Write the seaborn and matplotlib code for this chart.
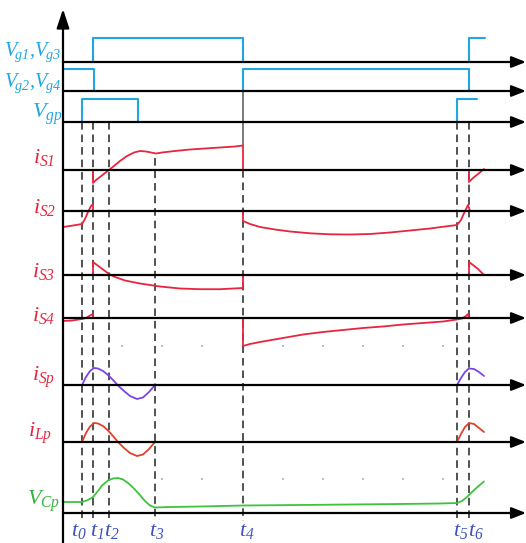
import numpy as np
import pandas as pd
import matplotlib
matplotlib.use("Agg")
import matplotlib.pyplot as plt
import seaborn as sns

# === Time instants (same unit as the horizontal axis) ===
T_NAMES = ["t_0", "t_1", "t_2", "t_3", "t_4", "t_5", "t_6"]
T_VALUES = [82, 93, 109, 155, 243, 457, 469]

# === Gate signals: edge times and logic level ===
VG13_X = [[93, 93, 243, 243], [469, 469, 485]]
VG13_L = [[0, 1, 1, 0], [0, 1, 1]]
VG24_X = [[63, 94, 94], [243, 243, 469, 469]]
VG24_L = [[1, 1, 0], [0, 1, 1, 0]]
VGP_X = [[82, 82, 138, 138], [457, 457, 477]]
VGP_L = [[0, 1, 1, 0], [0, 1, 1]]

# === Currents / voltage (amplitude, positive = up) ===
IS1_X = [[93, 93, 96, 100, 105, 109, 114, 120, 127, 134, 140, 146, 151, 156, 162, 175, 190, 205, 220, 235, 243, 243],
         [469, 469, 473, 478, 484]]
IS1_A = [[0, -13, -10, -7, -3, 0, 4, 9, 14, 17.5, 19, 18.5, 17.5, 16.5, 17.5, 19, 20.5, 21.5, 22.5, 23.5, 24.5, 0],
         [0, -12, -8, -4, 1]]

IS2_X = [[63, 70, 76, 82, 85, 88, 91, 93, 93],
         [243, 243, 250, 260, 275, 290, 310, 330, 350, 370, 390, 410, 430, 445, 457, 461, 465, 468, 470, 484]]
IS2_A = [[-16, -15, -14, -13, -8, -1, 5, 7, 0],
         [0, -10, -13, -16, -18.5, -20.5, -22.3, -23.3, -23.5, -23, -21.5, -19.5, -17.5, -15.5, -14, -9, 0, 6, 0, 0]]

IS3_X = [[93, 93, 97, 101, 105, 109, 115, 125, 140, 160, 180, 200, 220, 243, 243],
         [469, 469, 473, 478, 484]]
IS3_A = [[0, 13, 10, 7, 4, 1, -2, -5.5, -8.5, -11.5, -13.5, -14.2, -14.2, -13, 0],
         [0, 13, 10, 6, 0]]

IS4_X = [[63, 72, 82, 86, 90, 93, 93],
         [243, 243, 250, 260, 283, 303, 323, 343, 363, 383, 403, 423, 443, 457, 462, 466, 468, 469]]
IS4_A = [[-3, -2.5, -1, 0, 2.5, 4, 0],
         [0, -28, -26, -24, -20, -16.5, -14, -12, -10, -8.5, -6.5, -5, -3.5, -1.5, -0.5, 2, 4, 0]]

ISP_X = [[82, 86, 90, 94, 98, 103, 108, 113, 118, 124, 130, 137, 143, 149, 155],
         [457, 461, 465, 469, 474, 479, 484]]
ISP_A = [[0, 8, 14, 17, 16.5, 14, 10, 5, -0.5, -6, -11, -14, -12.5, -7, 0],
         [0, 7, 13, 16.5, 16, 13, 9]]

ILP_X = ISP_X
ILP_A = [[0, 9, 15.5, 19, 18.5, 16, 11.5, 6, 0, -6, -11, -14, -12.5, -7, 0],
         [0, 8, 15, 19, 18, 14, 10]]

VCP_X = [[63, 72, 82, 88, 93, 98, 102, 108, 113, 118, 123, 128, 133, 139, 145, 150, 155,
          170, 200, 243, 300, 350, 400, 440, 457, 462, 467, 472, 478, 484]]
VCP_A = [[11, 11, 11, 13, 16, 22, 27.5, 32.5, 34.5, 35, 33.5, 30, 25.5, 19, 12, 7.5, 5.5,
          6, 6.5, 7.5, 8, 8.5, 9, 9.5, 10, 12, 16, 21, 26.5, 31.5]]

# faint grid dots left in the original
DOT_X = [122, 162, 202, 283, 323, 363, 403, 443]

# === Layout ===
ROWS = {"vg13": 62, "vg24": 91, "vgp": 122, "is1": 170, "is2": 211, "is3": 275,
        "is4": 318, "isp": 385, "ilp": 442, "vcp": 513}
GATE_H = {"vg13": 24, "vg24": 22, "vgp": 23}
X0, X1 = 63, 526
BLUE = "#22a6e0"
RED = "#e8243f"
GREEN = "#34b43c"

sns.set_style("white")
plt.rcParams["font.family"] = ["Liberation Serif", "DejaVu Serif"]
plt.rcParams["mathtext.fontset"] = "custom"
plt.rcParams["mathtext.it"] = "Liberation Serif:italic"
plt.rcParams["mathtext.rm"] = "Liberation Serif:italic"

fig = plt.figure(figsize=(5.26, 5.43), dpi=100)
ax = fig.add_axes([0, 0, 1, 1])
ax.set_xlim(0, 526)
ax.set_ylim(543, 0)
ax.axis("off")

# === Axes with arrows ===
for name, row in ROWS.items():
    ax.annotate("", xy=(X1, row), xytext=(X0, row),
                arrowprops=dict(arrowstyle="-|>,head_length=0.86,head_width=0.34",
                                mutation_scale=10, lw=1.6, color="black",
                                shrinkA=0, shrinkB=0))
ax.annotate("", xy=(X0, 9), xytext=(X0, 543),
            arrowprops=dict(arrowstyle="-|>,head_length=1.15,head_width=0.38",
                            mutation_scale=10, lw=1.6, color="black",
                            shrinkA=0, shrinkB=0))

# === Vertical guide lines ===
guide_top = [122, 122, 122, 158, 170, 122, 122]
for tx, top in zip(T_VALUES, guide_top):
    ax.plot([tx, tx], [top, 521], ls=(0, (5, 3.2)), lw=1.1, color="#222222")
ax.plot([T_VALUES[4], T_VALUES[4]], [91, 145], lw=1.1, color="#555555")

# === Traces ===
def draw(key, xs, ys, color, gate=False, lw=1.3):
    for sx, sy in zip(xs, ys):
        sy = np.asarray(sy, dtype=float)
        if gate:
            yy = ROWS[key] - sy * GATE_H[key]
        else:
            yy = ROWS[key] - sy
        df = pd.DataFrame({"x": sx, "y": yy})
        sns.lineplot(data=df, x="x", y="y", sort=False, estimator=None,
                     color=color, lw=lw, ax=ax)

draw("vg13", VG13_X, VG13_L, BLUE, gate=True, lw=1.5)
draw("vg24", VG24_X, VG24_L, BLUE, gate=True, lw=1.5)
draw("vgp", VGP_X, VGP_L, BLUE, gate=True, lw=1.5)
draw("is1", IS1_X, IS1_A, RED)
draw("is2", IS2_X, IS2_A, RED)
draw("is3", IS3_X, IS3_A, RED)
draw("is4", IS4_X, IS4_A, RED)
draw("isp", ISP_X, ISP_A, "#7a45e6")
draw("ilp", ILP_X, ILP_A, "#e2402c")
draw("vcp", VCP_X, VCP_A, "#3cc43c")

for yy in [346, 479]:
    sns.scatterplot(x=DOT_X, y=[yy] * len(DOT_X), s=2, color="#aaaaaa",
                    edgecolor="none", ax=ax, legend=False)

# === Labels ===
ax.text(61, 56, r"$V_{\!g1},\!V_{\!g3}$", color=BLUE, fontsize=14.5, ha="right", va="baseline")
ax.text(61, 87, r"$V_{\!g2},\!V_{\!g4}$", color=BLUE, fontsize=14.5, ha="right", va="baseline")
ax.text(32, 118, r"$V_{gp}$", color=BLUE, fontsize=16, ha="left", va="baseline")

labels = [
    (r"$i_{S1}$", 33, 163, RED),
    (r"$i_{S2}$", 33, 213, RED),
    (r"$i_{S3}$", 32, 277, RED),
    (r"$i_{S4}$", 32, 321, RED),
    (r"$i_{Sp}$", 32, 381, RED),
    (r"$i_{Lp}$", 28, 437, RED),
    (r"$V_{Cp}$", 27, 505, GREEN),
]
for text, x, y, color in labels:
    ax.text(x, y, text, color=color, fontsize=16, ha="left", va="baseline")

t_label_x = [79, 97, 112, 157, 247, 461, 476]
for name, lx in zip(T_NAMES, t_label_x):
    ax.text(lx, 536, "$" + name + "$", color="#3f52c0", fontsize=16,
            ha="center", va="baseline")

fig.savefig("out.png", dpi=100)
